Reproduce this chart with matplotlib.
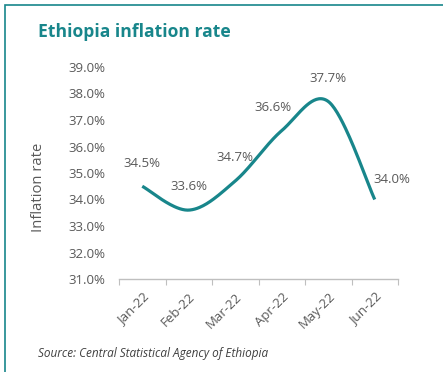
import numpy as np
import matplotlib.pyplot as plt
from matplotlib.patches import Rectangle

# data
months = ["Jan-22", "Feb-22", "Mar-22", "Apr-22", "May-22", "Jun-22"]
inflation = [34.5, 33.6, 34.7, 36.6, 37.7, 34.0]
# label offsets (dx, dy) in points for each data label
label_offsets = [(0, 12), (0, 12), (0, 12), (-6, 12), (0, 12), (12, 10)]

teal = "#18868b"
grey_text = "#595959"
plt.rcParams["font.family"] = ["Open Sans", "DejaVu Sans"]


def smooth_curve(xs, ys, steps=40):
    # Catmull-Rom style bezier smoothing, like Excel's smoothed line
    pts = np.column_stack([xs, ys]).astype(float)
    ext = np.vstack([pts[0], pts, pts[-1]])
    out = []
    for i in range(len(pts) - 1):
        p0, p1, p2, p3 = ext[i], ext[i + 1], ext[i + 2], ext[i + 3]
        c1 = p1 + (p2 - p0) / 6.0
        c2 = p2 - (p3 - p1) / 6.0
        t = np.linspace(0, 1, steps)[:, None]
        seg = ((1 - t) ** 3) * p1 + 3 * ((1 - t) ** 2) * t * c1 \
            + 3 * (1 - t) * t ** 2 * c2 + t ** 3 * p2
        out.append(seg if i == 0 else seg[1:])
    out = np.vstack(out)
    return out[:, 0], out[:, 1]


fig = plt.figure(figsize=(4.43, 3.72), dpi=100)
fig.patch.set_facecolor("white")

# teal frame on the left and top edge
fig.patches.append(Rectangle((5 / 443, -0.1), 1.2, (367 / 372) + 0.1,
                             transform=fig.transFigure, fill=False,
                             edgecolor=teal, linewidth=1.2))

ax = fig.add_axes([119 / 443, 93 / 372, 279 / 443, 212 / 372])
x = np.arange(len(months))
sx, sy = smooth_curve(x, inflation)
ax.plot(sx, sy, color=teal, linewidth=2.3, solid_capstyle="butt", clip_on=False)

for xi, val, (dx, dy) in zip(x, inflation, label_offsets):
    ax.annotate(f"{val:.1f}%", (xi, val), xytext=(dx, dy),
                textcoords="offset points", ha="center", va="bottom",
                fontsize=9.5, color=grey_text)

ax.set_xlim(-0.5, len(months) - 0.5)
ax.set_ylim(31, 39)
ax.set_yticks(np.arange(31, 40, 1))
ax.set_yticklabels([f"{v:.1f}%" for v in np.arange(31, 40, 1)])
ax.set_xticks(x)
ax.set_xticklabels(months, rotation=45, ha="right", rotation_mode="anchor")
ax.set_xticks(np.arange(-0.5, len(months), 1), minor=True)
ax.tick_params(axis="x", which="major", length=0, pad=8,
               labelsize=9.5, labelcolor=grey_text)
ax.tick_params(axis="x", which="minor", length=4, color="#bfbfbf", width=0.8)
ax.tick_params(axis="y", length=0, pad=10, labelsize=9.5, labelcolor=grey_text)

for side in ["left", "right", "top"]:
    ax.spines[side].set_visible(False)
ax.spines["bottom"].set_color("#bfbfbf")
ax.spines["bottom"].set_linewidth(1.0)

# y label sits a little below the axes centre in the original
fig.text(38 / 443, 1 - 187 / 372, "Inflation rate", fontsize=10.6,
         color=grey_text, rotation=90, va="center", ha="center")

fig.text(38 / 443, 1 - 32 / 372, "Ethiopia inflation rate", fontsize=12.6,
         fontweight="bold", color=teal, va="center", ha="left")
fig.text(38 / 443, 1 - 353 / 372, "Source: Central Statistical Agency of Ethiopia",
         fontsize=8.5, style="italic", color="#404040", va="center", ha="left")

fig.savefig("out.png", dpi=100)
